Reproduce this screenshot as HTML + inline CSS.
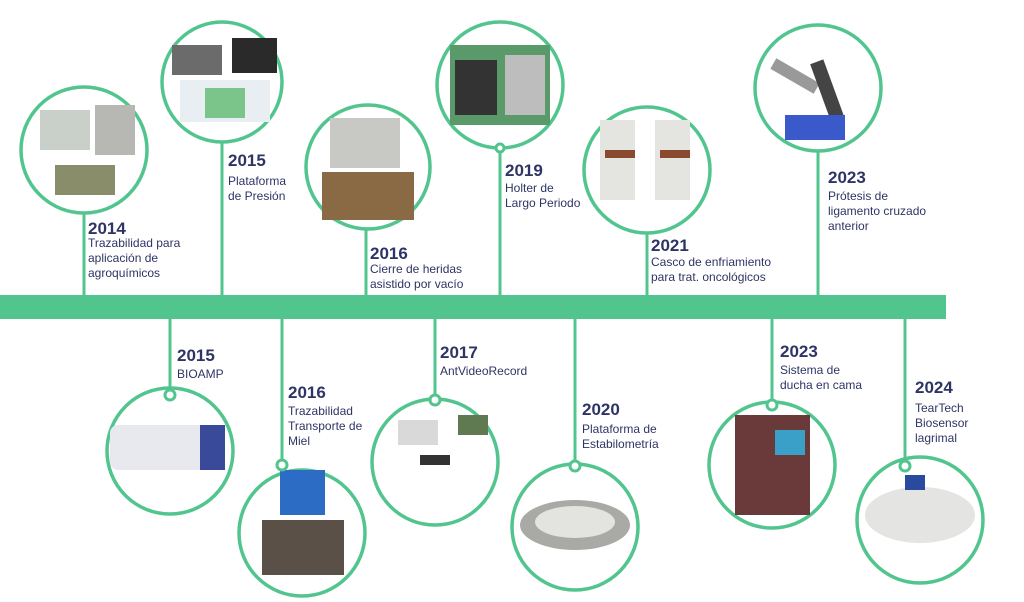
<!DOCTYPE html>
<html><head><meta charset="utf-8"><style>
html,body{margin:0;padding:0;background:#fff;}
svg{display:block;}
.y{font:bold 17px "Liberation Sans",sans-serif;fill:#2e3564;}
.t{font:12px "Liberation Sans",sans-serif;fill:#2e3564;}
.c{fill:#fff;stroke:#52c58f;stroke-width:3.5;}
.l{stroke:#52c58f;stroke-width:3;}
.d{fill:#fff;stroke:#52c58f;stroke-width:3;}
</style></head><body>
<svg width="1024" height="602" viewBox="0 0 1024 602">
<rect x="0" y="295" width="946" height="24" fill="#52c58f"/>
<!-- top connectors -->
<line class="l" x1="84" y1="212" x2="84" y2="296"/>
<line class="l" x1="222" y1="142" x2="222" y2="296"/>
<line class="l" x1="366" y1="229" x2="366" y2="296"/>
<line class="l" x1="500" y1="148" x2="500" y2="296"/>
<line class="l" x1="647" y1="233" x2="647" y2="296"/>
<line class="l" x1="818" y1="150" x2="818" y2="296"/>
<!-- bottom connectors -->
<line class="l" x1="170" y1="318" x2="170" y2="395"/>
<line class="l" x1="282" y1="318" x2="282" y2="465"/>
<line class="l" x1="435" y1="318" x2="435" y2="400"/>
<line class="l" x1="575" y1="318" x2="575" y2="466"/>
<line class="l" x1="772" y1="318" x2="772" y2="405"/>
<line class="l" x1="905" y1="318" x2="905" y2="466"/>
<!-- top circles -->
<circle class="c" cx="84" cy="150" r="63"/>
<rect x="40" y="110" width="50" height="40" fill="#c9cfc9"/><rect x="95" y="105" width="40" height="50" fill="#b7b7b4"/><rect x="55" y="165" width="60" height="30" fill="#8a8d6a"/>
<circle class="c" cx="222" cy="82" r="60"/>
<rect x="172" y="45" width="50" height="30" fill="#6b6b6b"/><rect x="232" y="38" width="45" height="35" fill="#2a2a2a"/><rect x="180" y="80" width="90" height="42" fill="#e8eef2"/><rect x="205" y="88" width="40" height="30" fill="#7cc58a"/>
<circle class="c" cx="368" cy="167" r="62"/>
<rect x="330" y="118" width="70" height="50" fill="#c8c8c4"/><rect x="322" y="172" width="92" height="48" fill="#8a6a45"/>
<circle class="c" cx="500" cy="85" r="63"/>
<rect x="450" y="45" width="100" height="80" fill="#5a9a6a"/><rect x="455" y="60" width="42" height="55" fill="#333"/><rect x="505" y="55" width="40" height="60" fill="#bdbdbd"/>
<circle class="d" cx="500" cy="148" r="4"/>
<circle class="c" cx="647" cy="170" r="63"/>
<rect x="600" y="120" width="35" height="80" fill="#e4e4e0"/><rect x="655" y="120" width="35" height="80" fill="#e4e4e0"/><rect x="605" y="150" width="30" height="8" fill="#8a4a30"/><rect x="660" y="150" width="30" height="8" fill="#8a4a30"/>
<circle class="c" cx="818" cy="88" r="63"/>
<rect x="770" y="70" width="50" height="12" fill="#999" transform="rotate(30 795 76)"/><rect x="820" y="60" width="14" height="60" fill="#444" transform="rotate(-20 827 90)"/><rect x="785" y="115" width="60" height="25" fill="#3a5acc"/>
<!-- bottom circles -->
<circle class="c" cx="170" cy="451" r="63"/>
<rect x="110" y="425" width="115" height="45" rx="8" fill="#e7e9ee"/><rect x="200" y="425" width="25" height="45" fill="#3a4a9a"/>
<circle class="d" cx="170" cy="395" r="5"/>
<circle class="c" cx="302" cy="533" r="63"/>
<rect x="280" y="470" width="45" height="45" fill="#2d6cc4"/><rect x="262" y="520" width="82" height="55" fill="#5a5048"/>
<circle class="d" cx="282" cy="465" r="5"/>
<circle class="c" cx="435" cy="462" r="63"/>
<rect x="398" y="420" width="40" height="25" fill="#d9d9d9"/><rect x="458" y="415" width="30" height="20" fill="#5f7a50"/><rect x="420" y="455" width="30" height="10" fill="#333"/>
<circle class="d" cx="435" cy="400" r="5"/>
<circle class="c" cx="575" cy="527" r="63"/>
<ellipse cx="575" cy="525" rx="55" ry="25" fill="#a9a9a6"/><ellipse cx="575" cy="522" rx="40" ry="16" fill="#e3e3e0"/>
<circle class="d" cx="575" cy="466" r="5"/>
<circle class="c" cx="772" cy="465" r="63"/>
<rect x="735" y="415" width="75" height="100" fill="#6a3a3a"/><rect x="775" y="430" width="30" height="25" fill="#3aa0c8"/>
<circle class="d" cx="772" cy="405" r="5"/>
<circle class="c" cx="920" cy="520" r="63"/>
<ellipse cx="920" cy="515" rx="55" ry="28" fill="#e4e4e2"/><rect x="905" y="475" width="20" height="15" fill="#2a4aa0"/>
<circle class="d" cx="905" cy="466" r="5"/>
<!-- top labels -->
<text class="y" x="88" y="234">2014</text>
<text class="t" x="88" y="247">Trazabilidad para</text><text class="t" x="88" y="262">aplicación de</text><text class="t" x="88" y="277">agroquímicos</text>
<text class="y" x="228" y="166">2015</text>
<text class="t" x="228" y="185">Plataforma</text><text class="t" x="228" y="200">de Presión</text>
<text class="y" x="370" y="259">2016</text>
<text class="t" x="370" y="273">Cierre de heridas</text><text class="t" x="370" y="288">asistido por vacío</text>
<text class="y" x="505" y="176">2019</text>
<text class="t" x="505" y="192">Holter de</text><text class="t" x="505" y="207">Largo Periodo</text>
<text class="y" x="651" y="251">2021</text>
<text class="t" x="651" y="266">Casco de enfriamiento</text><text class="t" x="651" y="281">para trat. oncológicos</text>
<text class="y" x="828" y="183">2023</text>
<text class="t" x="828" y="200">Prótesis de</text><text class="t" x="828" y="215">ligamento cruzado</text><text class="t" x="828" y="230">anterior</text>
<!-- bottom labels -->
<text class="y" x="177" y="361">2015</text>
<text class="t" x="177" y="378">BIOAMP</text>
<text class="y" x="288" y="398">2016</text>
<text class="t" x="288" y="415">Trazabilidad</text><text class="t" x="288" y="430">Transporte de</text><text class="t" x="288" y="445">Miel</text>
<text class="y" x="440" y="358">2017</text>
<text class="t" x="440" y="375">AntVideoRecord</text>
<text class="y" x="582" y="415">2020</text>
<text class="t" x="582" y="433">Plataforma de</text><text class="t" x="582" y="448">Estabilometría</text>
<text class="y" x="780" y="357">2023</text>
<text class="t" x="780" y="374">Sistema de</text><text class="t" x="780" y="389">ducha en cama</text>
<text class="y" x="915" y="393">2024</text>
<text class="t" x="915" y="412">TearTech</text><text class="t" x="915" y="427">Biosensor</text><text class="t" x="915" y="442">lagrimal</text>
</svg>
</body></html>
